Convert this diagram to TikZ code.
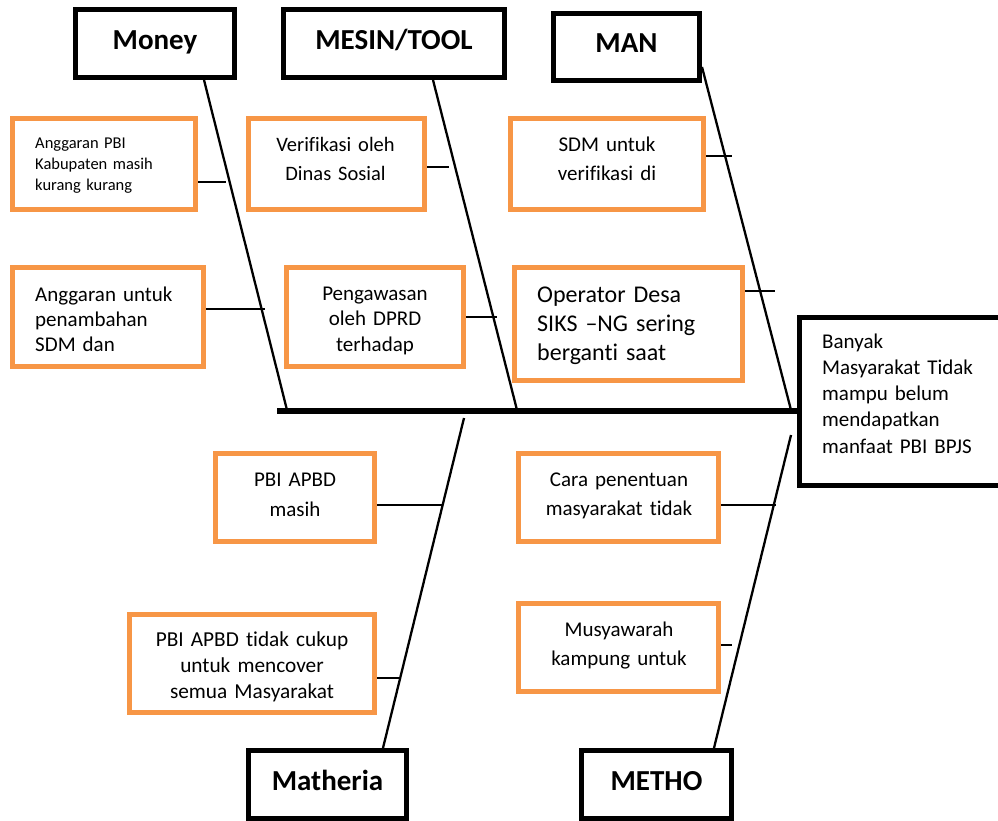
\documentclass[tikz,border=0pt]{standalone}
\usepackage{fontspec}
\setmainfont{Carlito}[Ligatures={NoCommon}]
\definecolor{orangeacc}{HTML}{F79646}
\begin{document}
\begin{tikzpicture}[x=1pt,y=-1pt,
  hb/.style={draw=black,line width=5pt,inner sep=0pt,text height=21pt,text depth=9pt,
    font=\fontsize{29}{32}\selectfont\bfseries},
  ob/.style={draw=orangeacc,line width=5pt,inner sep=0pt},
  eb/.style={draw=black,line width=5pt,inner sep=0pt},
  spine/.style={line width=2.3pt},
  mainline/.style={line width=5.5pt},
  rib/.style={line width=2.3pt},
  ctext/.style={inner sep=0pt,anchor=base,align=center,text width=#1},
  ltext/.style={inner sep=0pt,anchor=base west,align=left,text width=#1}]
\fill[white] (0,0) rectangle (998,821);
\useasboundingbox (0,0) rectangle (998,821);
\clip (0,0) rectangle (998,821);

% header boxes
\node[hb,minimum width=159pt,minimum height=68pt] (money) at (155,43.5) {Money};
\node[hb,minimum width=221pt,minimum height=68pt] (mesin) at (394,43.5) {MESIN/TOOL};
\node[hb,minimum width=146pt,minimum height=67pt] (man) at (626.5,47) {MAN};
\node[hb,minimum width=158pt,minimum height=67.5pt] (matheria) at (327.5,784.25) {Matheria};
\node[hb,minimum width=150pt,minimum height=67.5pt] (metho) at (656.5,784.25) {METHO};

% effect box
\node[eb,minimum width=210.5pt,minimum height=168pt] (effect) at (904.75,401.5) {};
\node[ltext=170pt,font=\fontsize{21}{26.3}\selectfont] (te) at (822,348)
  {Banyak\\Masyarakat Tidak\\mampu belum\\mendapatkan\\manfaat PBI BPJS};

% cause boxes
\node[ob,minimum width=183pt,minimum height=91pt] (b1) at (104,164) {};
\node[ob,minimum width=191pt,minimum height=99pt] (b2) at (108,317) {};
\node[ob,minimum width=176pt,minimum height=91pt] (b3) at (336.5,164) {};
\node[ob,minimum width=177pt,minimum height=99pt] (b4) at (375,317) {};
\node[ob,minimum width=193pt,minimum height=91pt] (b5) at (607,164) {};
\node[ob,minimum width=228pt,minimum height=113pt] (b6) at (628.5,324) {};
\node[ob,minimum width=159pt,minimum height=88pt] (b7) at (295,497.5) {};
\node[ob,minimum width=245pt,minimum height=98pt] (b8) at (252,663.5) {};
\node[ob,minimum width=200pt,minimum height=88pt] (b9) at (618.5,497.5) {};
\node[ob,minimum width=200pt,minimum height=88pt] (b10) at (618.5,647.5) {};

% texts
\node[ltext=160pt,font=\fontsize{16.5}{21}\selectfont] (t1) at (35,149)
  {Anggaran PBI\\Kabupaten masih\\kurang kurang};
\node[ltext=170pt,font=\fontsize{21}{25}\selectfont] (t2) at (35,301)
  {Anggaran untuk\\penambahan\\SDM dan};
\node[ctext=170pt,font=\fontsize{20.5}{29}\selectfont] (t3) at (335.5,152)
  {Verifikasi oleh\\Dinas Sosial};
\node[ctext=170pt,font=\fontsize{21}{25.5}\selectfont] (t4) at (375,300)
  {Pengawasan\\oleh DPRD\\terhadap};
\node[ctext=180pt,font=\fontsize{21}{29}\selectfont] (t5) at (607,152)
  {SDM untuk\\verifikasi di};
\node[ltext=200pt,font=\fontsize{24}{29}\selectfont] (t6) at (537,302)
  {Operator Desa\\SIKS –NG sering\\berganti saat};
\node[ctext=150pt,font=\fontsize{21}{30}\selectfont] (t7) at (295,486)
  {PBI APBD\\masih};
\node[ctext=240pt,font=\fontsize{21.3}{26}\selectfont] (t8) at (252,646)
  {PBI APBD tidak cukup\\untuk mencover\\semua Masyarakat};
\node[ctext=195pt,font=\fontsize{21}{29}\selectfont] (t9) at (619,486)
  {Cara penentuan\\masyarakat tidak};
\node[ctext=195pt,font=\fontsize{21}{29}\selectfont] (t10) at (619,636)
  {Musyawarah\\kampung untuk};

% spine coordinates
\coordinate (mainL) at (277,411);
\coordinate (mainR) at (797,411);
\coordinate (sMoneyA) at (204,80);
\coordinate (sMoneyB) at (287,410);
\coordinate (sMesinA) at (433,80);
\coordinate (sMesinB) at (517,410);
\coordinate (sManA) at (702,67);
\coordinate (sManB) at (791,410);
\coordinate (sMatA) at (464,418);
\coordinate (sMatB) at (383,748);
\coordinate (sMetA) at (791,435);
\coordinate (sMetB) at (714,748);

\draw[mainline] (mainL) -- (mainR);
\draw[spine] (sMoneyA) -- (sMoneyB);
\draw[spine] (sMesinA) -- (sMesinB);
\draw[spine] (sManA) -- (sManB);
\draw[spine] (sMatA) -- (sMatB);
\draw[spine] (sMetA) -- (sMetB);

% rib ends
\coordinate (r1) at (226,182);
\coordinate (r2) at (265,309);
\coordinate (r3) at (449,167);
\coordinate (r4) at (497,317);
\coordinate (r5) at (732,156);
\coordinate (r6) at (775,291);
\coordinate (r7) at (442,505);
\coordinate (r8) at (399,678);
\coordinate (r9) at (776,505);
\coordinate (r10) at (732,645);

\draw[rib] (b1.east |- r1) -- (r1);
\draw[rib] (b2.east |- r2) -- (r2);
\draw[rib] (b3.east |- r3) -- (r3);
\draw[rib] (b4.east |- r4) -- (r4);
\draw[rib] (b5.east |- r5) -- (r5);
\draw[rib] (b6.east |- r6) -- (r6);
\draw[rib] (b7.east |- r7) -- (r7);
\draw[rib] (b8.east |- r8) -- (r8);
\draw[rib] (b9.east |- r9) -- (r9);
\draw[rib] (b10.east |- r10) -- (r10);
\end{tikzpicture}
\end{document}
